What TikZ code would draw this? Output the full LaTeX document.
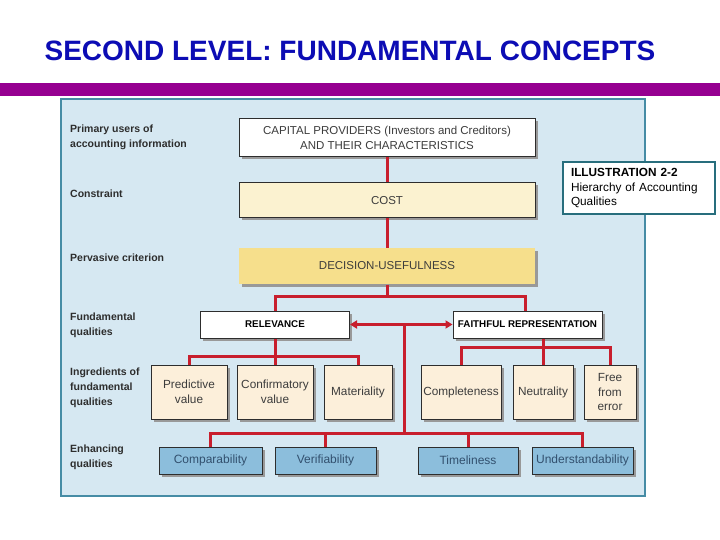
\documentclass[tikz,border=0pt]{standalone}
\usepackage{fontspec}
\setmainfont{Liberation Sans}
\usetikzlibrary{arrows.meta,shadows}
\definecolor{titleblue}{RGB}{12,12,180}
\definecolor{barpurple}{RGB}{150,0,145}
\definecolor{panelfill}{RGB}{214,232,242}
\definecolor{panelline}{RGB}{70,140,165}
\definecolor{costfill}{RGB}{251,242,208}
\definecolor{decfill}{RGB}{246,223,140}
\definecolor{ingfill}{RGB}{252,239,218}
\definecolor{enhfill}{RGB}{140,190,220}
\definecolor{enhtext}{RGB}{50,80,110}
\definecolor{linered}{RGB}{200,30,45}
\definecolor{illline}{RGB}{40,110,125}
\definecolor{boxline}{RGB}{45,45,45}
\definecolor{labeltext}{RGB}{45,45,45}
\definecolor{boxtext}{RGB}{60,60,60}
\tikzset{
  shad/.style={drop shadow={shadow xshift=2.5pt,shadow yshift=-2.5pt,fill=black!40,opacity=1}},
  basebox/.style={shad,draw=boxline,line width=1pt,inner sep=1pt,align=center,text=boxtext},
  topbox/.style={basebox,fill=white,minimum width=296pt,font=\fontsize{11.5}{14.5}\selectfont},
  fundbox/.style={basebox,fill=white,minimum width=149pt,minimum height=27pt,text=black,font=\bfseries\fontsize{9.8}{11}\selectfont},
  ingbox/.style={basebox,fill=ingfill,minimum height=54pt,font=\fontsize{11.8}{14.5}\selectfont},
  enhbox/.style={basebox,fill=enhfill,minimum height=27pt,text=enhtext,font=\fontsize{12}{13}\selectfont},
  lbl/.style={anchor=west,align=left,inner sep=0pt,text=labeltext,font=\bfseries\fontsize{10.5}{15}\selectfont},
  conn/.style={draw=linered,line width=3pt},
  arr/.style={conn,-{Triangle[length=7pt,width=8pt]}}
}
\begin{document}
\begin{tikzpicture}[x=1pt,y=-1pt]
\useasboundingbox (0,0) rectangle (720,540);
\fill[white] (0,0) rectangle (720,540);
% title
\node[text=titleblue,font=\bfseries\fontsize{28}{32}\selectfont,inner sep=0pt] (title) at (350,51) {SECOND LEVEL: FUNDAMENTAL CONCEPTS};
\fill[barpurple] (0,83) rectangle (720,96);
% panel
\draw[fill=panelfill,draw=panelline,line width=1.2pt] (61,99) rectangle (645,496);
% left labels
\node[lbl] (l1) at (70,137.5) {Primary users of\\accounting information};
\node[lbl] (l2) at (70,194) {Constraint};
\node[lbl] (l3) at (70,258) {Pervasive criterion};
\node[lbl] (l4) at (70,325.5) {Fundamental\\qualities};
\node[lbl] (l5) at (70,388) {Ingredients of\\fundamental\\qualities};
\node[lbl] (l6) at (70,457.5) {Enhancing\\qualities};
% top boxes
\node[topbox,minimum height=38pt] (cap) at (387,138) {CAPITAL PROVIDERS (Investors and Creditors)\\AND THEIR CHARACTERISTICS};
\node[topbox,fill=costfill,minimum height=35pt] (cost) at (387,200.5) {COST};
\node[topbox,fill=decfill,draw=none,minimum height=36pt] (dec) at (387,266) {DECISION-USEFULNESS};
% fundamental
\node[fundbox] (rel) at (275,324.5) {RELEVANCE};
\node[fundbox] (fr) at (527.5,324.5) {FAITHFUL REPRESENTATION};
% ingredients
\node[ingbox,minimum width=76pt] (pred) at (189,392) {Predictive\\value};
\node[ingbox,minimum width=76pt] (conf) at (275,392) {Confirmatory\\value};
\node[ingbox,minimum width=68pt] (mat) at (358,392) {Materiality};
\node[ingbox,minimum width=80pt] (comp) at (461,392) {Completeness};
\node[ingbox,minimum width=60pt] (neut) at (543,392) {Neutrality};
\node[ingbox,minimum width=52pt] (free) at (610,392) {Free\\from\\error};
% enhancing
\node[enhbox,minimum width=103pt] (cmp) at (210.5,460.5) {Comparability};
\node[enhbox,minimum width=101pt] (ver) at (325.5,460.5) {Verifiability};
\node[enhbox,minimum width=100pt] (tim) at (468,460.5) {Timeliness};
\node[enhbox,minimum width=101pt] (und) at (582.5,460.5) {Understandability};
% illustration box
\node[draw=illline,line width=1.5pt,fill=white,minimum width=152pt,minimum height=52pt,text width=136pt,align=left,inner sep=0pt,font=\fontsize{11.8}{14.5}\selectfont] (ill) at (639,188) {\textbf{ILLUSTRATION 2-2}\\Hierarchy of Accounting\\Qualities};
% connectors
\coordinate (b1) at (387,296);
\coordinate (hub) at (404,324.5);
\coordinate (eb) at (404,433);
\coordinate (rb) at (275,356);
\coordinate (fb) at (543,347);
\coordinate (frtop) at (525,311);
\draw[conn] (cap.south) -- (cost.north);
\draw[conn] (cost.south) -- (dec.north);
\draw[conn] (dec.south) -- (b1);
\draw[conn] (rel.north) |- (b1) -| (frtop);
\draw[arr] (hub) -- (rel.east);
\draw[arr] (hub) -- (fr.west);
\draw[conn] (hub) -- (eb);
\draw[conn] (rel.south) -- (rb);
\draw[conn] (pred.north) |- (rb) -| (mat.north);
\draw[conn] (rb) -- (conf.north);
\draw[conn] (fr.south -| fb) -- (fb);
\draw[conn] (comp.north) |- (fb) -| (free.north);
\draw[conn] (fb) -- (neut.north);
\draw[conn] (cmp.north) |- (eb) -| (und.north);
\draw[conn] (ver.north) -- (ver.north |- eb);
\draw[conn] (tim.north) -- (tim.north |- eb);
\end{tikzpicture}
\end{document}
